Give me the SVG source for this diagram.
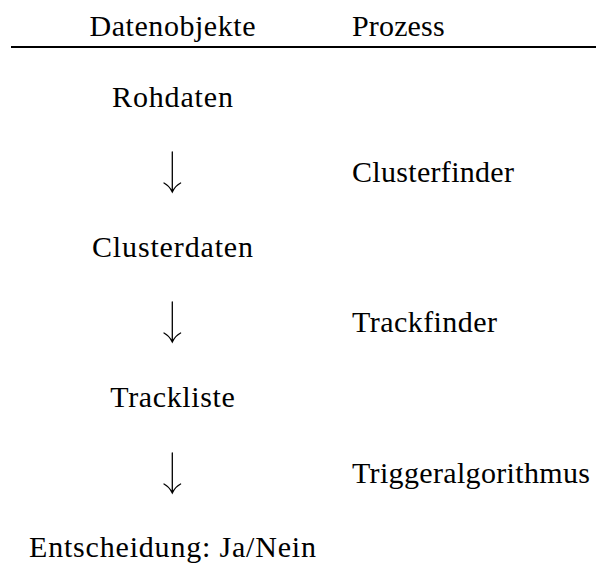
<svg xmlns="http://www.w3.org/2000/svg" width="596" height="566" viewBox="0 0 596 566">
<style>
text{font-family:"Liberation Serif","Times New Roman",serif;font-size:30px;fill:#000}
.c{text-anchor:middle}
.arr{fill:none;stroke:#000;stroke-width:1.3;stroke-linecap:round}
</style>
<rect width="596" height="566" fill="#fff"/>
<g id="header">
<text class="c" x="172.5" y="36" textLength="166" lengthAdjust="spacing">Datenobjekte</text>
<text x="352" y="36" textLength="92.6" lengthAdjust="spacing">Prozess</text>
<line x1="11" y1="47" x2="596" y2="47" stroke="#000" stroke-width="1.8"/>
</g>
<g id="rohdaten"><text class="c" x="172.5" y="107" textLength="120.8" lengthAdjust="spacing">Rohdaten</text></g>
<g id="clusterfinder"><text x="352" y="182" textLength="162" lengthAdjust="spacing">Clusterfinder</text></g>
<g id="clusterdaten"><text class="c" x="172.5" y="257" textLength="161" lengthAdjust="spacing">Clusterdaten</text></g>
<g id="trackfinder"><text x="352" y="332" textLength="145" lengthAdjust="spacing">Trackfinder</text></g>
<g id="trackliste"><text class="c" x="172.5" y="407" textLength="124.5" lengthAdjust="spacing">Trackliste</text></g>
<g id="triggeralgorithmus"><text x="352" y="483" textLength="238" lengthAdjust="spacing">Triggeralgorithmus</text></g>
<g id="entscheidung"><text class="c" x="172.5" y="557" textLength="287" lengthAdjust="spacing">Entscheidung: Ja/Nein</text></g>
<g id="connectors">
<path class="arr" d="M172.3,152 V191.5 M164,183 Q169.5,186 172.3,192 Q175,186 180.6,183"/>
<path class="arr" d="M172.3,302 V341.5 M164,333 Q169.5,336 172.3,342 Q175,336 180.6,333"/>
<path class="arr" d="M172.3,453 V492.5 M164,484 Q169.5,487 172.3,493 Q175,487 180.6,484"/>
</g>
</svg>
